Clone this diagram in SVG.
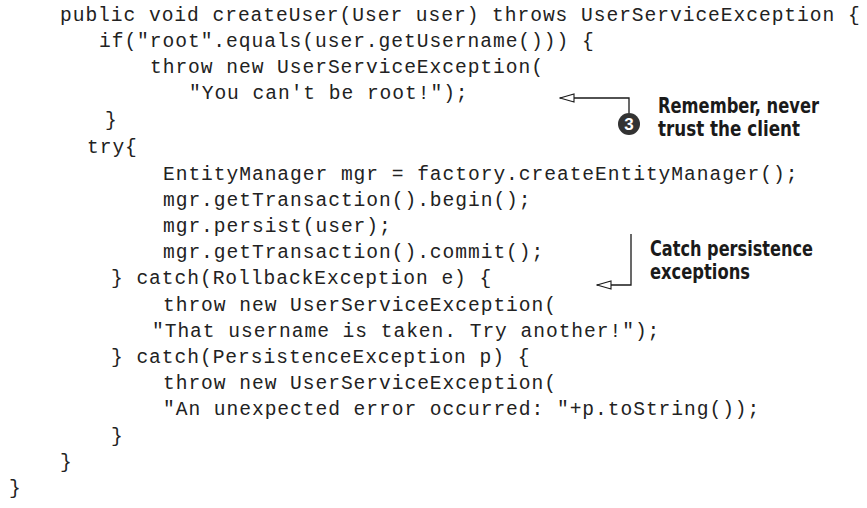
<svg xmlns="http://www.w3.org/2000/svg" width="867" height="508" viewBox="0 0 867 508">
<style>
.code{font-family:"Liberation Mono","Courier New",monospace;font-size:19.6px;letter-spacing:0.95px;fill:#222;white-space:pre}
.note{font-family:"Liberation Sans Narrow","DejaVu Sans Condensed","Liberation Sans",sans-serif;font-weight:bold;font-size:21.5px;fill:#1a1a1a}
.conn{fill:none;stroke:#1a1a1a;stroke-width:1.3}
.num{font-family:"Liberation Sans Narrow","Liberation Sans","DejaVu Sans",sans-serif;font-weight:bold;font-size:17px;fill:#fff}
</style>
<defs>
<marker id="open" viewBox="0 0 16 10" refX="15" refY="5" markerWidth="16" markerHeight="10" markerUnits="userSpaceOnUse" orient="auto">
<path d="M1,1 L15,5 L1,9 Z" fill="#fff" stroke="#1a1a1a" stroke-width="1.1"/>
</marker>
</defs>
<rect width="867" height="508" fill="#fff"/>
<g id="code">
<text class="code" x="60" y="21">public void createUser(User user) throws UserServiceException {</text>
<text class="code" x="99" y="47">if("root".equals(user.getUsername())) {</text>
<text class="code" x="150" y="73">throw new UserServiceException(</text>
<text class="code" x="189" y="99">"You can't be root!");</text>
<text class="code" x="105" y="126">}</text>
<text class="code" x="87" y="153">try{</text>
<text class="code" x="163" y="180">EntityManager mgr = factory.createEntityManager();</text>
<text class="code" x="163" y="206">mgr.getTransaction().begin();</text>
<text class="code" x="163" y="232">mgr.persist(user);</text>
<text class="code" x="163" y="258">mgr.getTransaction().commit();</text>
<text class="code" x="111" y="284">} catch(RollbackException e) {</text>
<text class="code" x="163" y="311">throw new UserServiceException(</text>
<text class="code" x="152" y="337">"That username is taken. Try another!");</text>
<text class="code" x="111" y="363">} catch(PersistenceException p) {</text>
<text class="code" x="163" y="389">throw new UserServiceException(</text>
<text class="code" x="163" y="415">"An unexpected error occurred: "+p.toString());</text>
<text class="code" x="111" y="442">}</text>
<text class="code" x="60" y="468">}</text>
<text class="code" x="9" y="494">}</text>
</g>
<g id="connectors">
<path class="conn" d="M629,113 V98 H560" marker-end="url(#open)"/>
<path class="conn" d="M631,234 V285 H597" marker-end="url(#open)"/>
</g>
<g id="callout-3">
<circle cx="629" cy="124" r="11" fill="#333"/>
<text class="num" x="629" y="130" text-anchor="middle">3</text>
<text class="note" x="658" y="112.5" textLength="161" lengthAdjust="spacingAndGlyphs">Remember, never</text>
<text class="note" x="658" y="136" textLength="142" lengthAdjust="spacingAndGlyphs">trust the client</text>
</g>
<g id="callout-catch">
<text class="note" x="650" y="255.5" textLength="163" lengthAdjust="spacingAndGlyphs">Catch persistence</text>
<text class="note" x="650" y="279" textLength="100" lengthAdjust="spacingAndGlyphs">exceptions</text>
</g>
</svg>
